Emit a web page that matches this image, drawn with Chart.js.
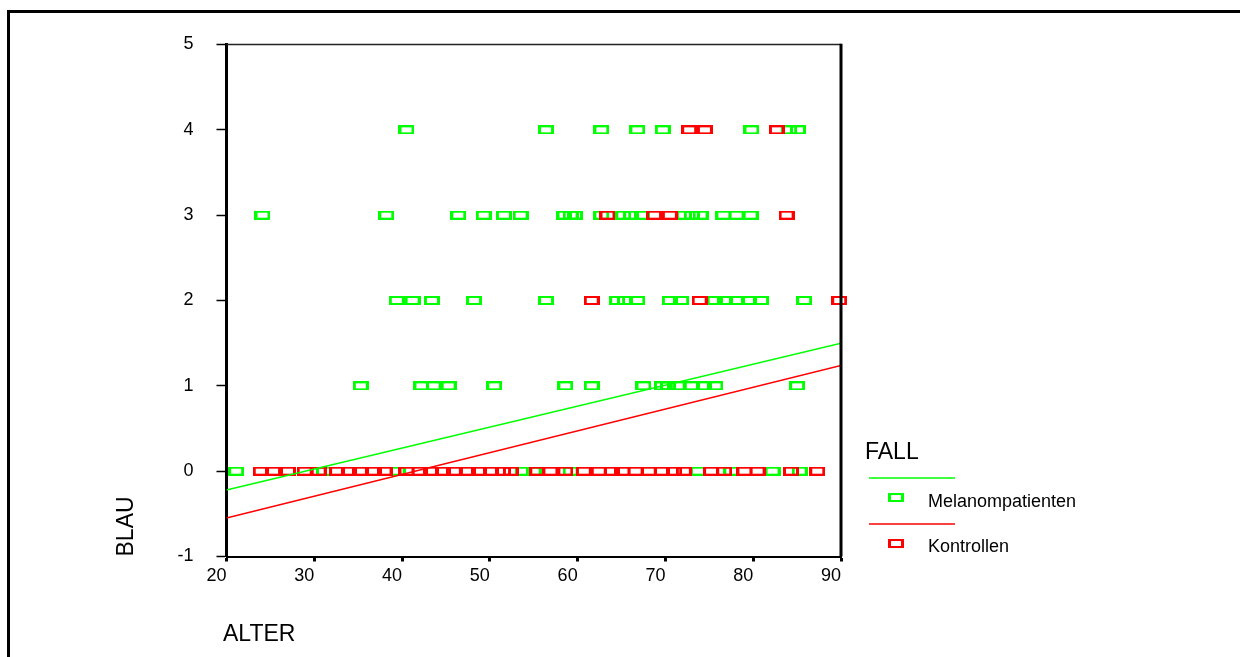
<!DOCTYPE html>
<html>
<head>
<meta charset="utf-8">
<title>BLAU nach ALTER</title>
<script src="https://cdn.jsdelivr.net/npm/chart.js@4.4.0/dist/chart.umd.min.js"></script>
<style>
    html, body { margin: 0; padding: 0; background: #fff; }
    #wrap { width: 1240px; height: 657px; }
</style>
</head>
<body>
<div id="wrap"><canvas id="chart" width="1240" height="657"></canvas></div>
<script>
// Werte (ALTER je BLAU-Stufe)
const blauStufen = [0, 1, 2, 3, 4];

const melanom0 = [21.1, 31.1, 39.5, 53.8, 55.0, 59.2, 73.7, 77.5, 82.2, 85.3];
const melanom1 = [35.3, 42.2, 43.6, 45.3, 50.5, 58.6, 61.6, 67.5, 69.6, 70.3, 71.4, 73.0, 74.4, 75.7, 85.0];
const melanom2 = [39.4, 41.2, 43.4, 48.2, 56.4, 64.5, 65.4, 66.8, 70.5, 71.8, 75.6, 76.8, 78.1, 79.5, 80.9, 85.8];
const melanom3 = [24.1, 38.2, 46.4, 49.3, 51.6, 53.5, 58.5, 59.2, 59.7, 62.7, 65.2, 66.1, 67.3, 72.1, 73.0, 74.0, 76.6, 78.1, 79.7];
const melanom4 = [40.5, 56.4, 62.7, 66.8, 69.7, 79.8, 84.1, 85.1];

const kontrolle0 = [23.9, 25.3, 27.0, 28.9, 30.5, 32.6, 34.0, 35.2, 36.8, 38.0, 40.5, 42.0, 43.3, 44.7,
    45.9, 47.5, 48.8, 50.1, 51.5, 52.4, 55.4, 56.9, 58.6, 60.7, 62.4, 63.9, 65.1, 66.6, 68.1, 69.6,
    71.0, 72.1, 75.2, 76.7, 79.0, 80.5, 84.3, 87.3];
const kontrolle1 = [];
const kontrolle2 = [61.6, 73.9, 89.8];
const kontrolle3 = [63.4, 68.7, 70.5, 83.8];
const kontrolle4 = [72.7, 74.5, 82.7];

const trendAlter = [20, 90];
const trendMelanom = [-0.22, 1.50];
const trendKontrolle = [-0.55, 1.24];

const xTicks = [20, 30, 40, 50, 60, 70, 80, 90];
const yTicks = [-1, 0, 1, 2, 3, 4, 5];

const GRUEN = '#00ff00';
const ROT = '#ff0000';
const SCHRIFT = '"Liberation Sans", Arial, sans-serif';

function punkte(stufen) {
    const out = [];
    stufen.forEach((alter, i) => {
        alter.forEach(a => out.push({ x: a, y: blauStufen[i] }));
    });
    return out;
}

function gerade(werte) {
    return trendAlter.map((a, i) => ({ x: a, y: werte[i] }));
}

// hohles Kaestchen, seitlich etwas dicker als oben/unten
function kaestchen(farbe) {
    const c = document.createElement('canvas');
    c.width = 16;
    c.height = 9;
    const g = c.getContext('2d');
    g.fillStyle = farbe;
    g.fillRect(0, 0, 16, 9);
    g.clearRect(3, 2, 10, 5);
    return c;
}

const boxGruen = kaestchen(GRUEN);
const boxRot = kaestchen(ROT);

const beschriftung = {
    id: 'beschriftung',
    afterDraw(chart) {
        const ctx = chart.ctx;
        const a = chart.chartArea;
        ctx.save();

        // aeusserer Rahmen
        ctx.strokeStyle = '#000';
        ctx.lineWidth = 3;
        ctx.beginPath();
        ctx.moveTo(8.5, 657);
        ctx.lineTo(8.5, 11.5);
        ctx.lineTo(1240, 11.5);
        ctx.stroke();

        // Rahmen oben / rechts am Diagramm
        ctx.lineWidth = 1.5;
        ctx.strokeStyle = '#222';
        ctx.beginPath();
        ctx.moveTo(a.left, a.top);
        ctx.lineTo(a.right, a.top);
        ctx.stroke();
        ctx.lineWidth = 3;
        ctx.strokeStyle = '#000';
        ctx.beginPath();
        ctx.moveTo(a.right, a.top - 0.75);
        ctx.lineTo(a.right, a.bottom);
        ctx.stroke();

        // Achsentitel
        ctx.fillStyle = '#000';
        ctx.font = '23px ' + SCHRIFT;
        ctx.textAlign = 'left';
        ctx.textBaseline = 'alphabetic';
        ctx.fillText('ALTER', 223, 641);
        ctx.fillText('FALL', 865, 459);
        ctx.save();
        ctx.translate(133, 556.5);
        ctx.rotate(-Math.PI / 2);
        ctx.fillText('BLAU', 0, 0);
        ctx.restore();

        // Legende
        ctx.lineWidth = 1.5;
        ctx.strokeStyle = GRUEN;
        ctx.beginPath();
        ctx.moveTo(869, 478);
        ctx.lineTo(955, 478);
        ctx.stroke();
        ctx.strokeStyle = ROT;
        ctx.beginPath();
        ctx.moveTo(869, 524);
        ctx.lineTo(955, 524);
        ctx.stroke();
        ctx.drawImage(boxGruen, 888, 493);
        ctx.drawImage(boxRot, 888, 539);
        ctx.font = '18px ' + SCHRIFT;
        ctx.fillText('Melanompatienten', 928, 507);
        ctx.fillText('Kontrollen', 928, 552);

        ctx.restore();
    }
};

new Chart(document.getElementById('chart'), {
    type: 'scatter',
    data: {
        datasets: [
            {
                label: 'Melanompatienten (Gerade)',
                data: gerade(trendMelanom),
                showLine: true,
                borderColor: GRUEN,
                borderWidth: 1.5,
                pointRadius: 0
            },
            {
                label: 'Kontrollen (Gerade)',
                data: gerade(trendKontrolle),
                showLine: true,
                borderColor: ROT,
                borderWidth: 1.5,
                pointRadius: 0
            },
            {
                label: 'Kontrollen',
                data: punkte([kontrolle0, kontrolle1, kontrolle2, kontrolle3, kontrolle4]),
                pointStyle: boxRot,
                pointRadius: 5,
                clip: 12
            },
            {
                label: 'Melanompatienten',
                data: punkte([melanom0, melanom1, melanom2, melanom3, melanom4]),
                pointStyle: boxGruen,
                pointRadius: 5,
                clip: 12
            }
        ]
    },
    options: {
        responsive: false,
        animation: false,
        devicePixelRatio: 1,
        layout: { padding: { left: 0, top: 44.5, right: 399, bottom: 0 } },
        plugins: {
            legend: { display: false },
            tooltip: { enabled: false }
        },
        scales: {
            x: {
                type: 'linear',
                min: 20,
                max: 90,
                afterBuildTicks: s => { s.ticks = xTicks.map(v => ({ value: v })); },
                afterFit: s => { s.height = 100.5; },
                ticks: {
                    align: 'end',
                    padding: 4,
                    color: '#000',
                    font: { family: SCHRIFT, size: 18 }
                },
                grid: {
                    drawOnChartArea: false,
                    tickLength: 5,
                    tickWidth: 3,
                    color: '#000'
                },
                border: { color: '#000', width: 2 }
            },
            y: {
                min: -1,
                max: 5,
                afterBuildTicks: s => { s.ticks = yTicks.map(v => ({ value: v })); },
                afterFit: s => { s.width = 226.5; },
                ticks: {
                    padding: 23,
                    color: '#000',
                    font: { family: SCHRIFT, size: 18 }
                },
                grid: {
                    drawOnChartArea: false,
                    tickLength: 10,
                    tickWidth: 1.5,
                    color: '#000'
                },
                border: { color: '#000', width: 3 }
            }
        }
    },
    plugins: [beschriftung]
});
</script>
</body>
</html>
